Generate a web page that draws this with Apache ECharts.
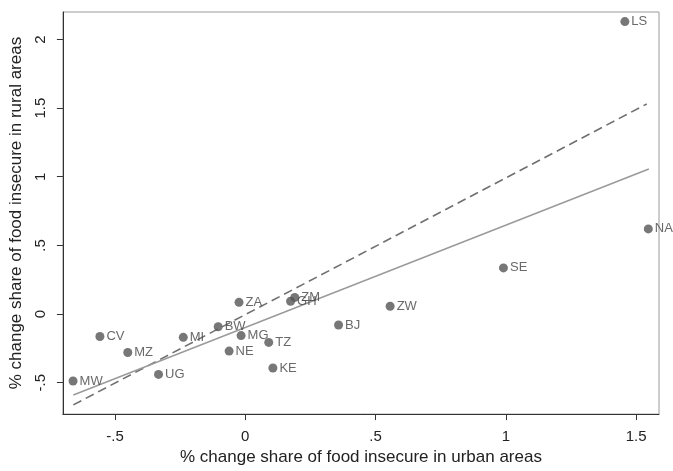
<!DOCTYPE html>
<html><head><meta charset="utf-8">
<script src="https://cdn.jsdelivr.net/npm/echarts@6/dist/echarts.min.js"></script>
<style>html,body{margin:0;padding:0;background:#fff}#c{width:673px;height:471px}</style>
</head><body><div id="c"></div>
<script>
const countries = ['LS','NA','SE','ZW','BJ','ZM','GH','ZA','BW','MI','MG','TZ','NE','KE','UG','CV','MZ','MW'];
const urbanChange = [1.457,1.547,0.991,0.556,0.358,0.19,0.174,-0.024,-0.104,-0.238,-0.016,0.09,-0.062,0.106,-0.333,-0.558,-0.451,-0.661];
const ruralChange = [2.13,0.62,0.336,0.057,-0.08,0.121,0.093,0.085,-0.093,-0.17,-0.157,-0.207,-0.27,-0.393,-0.44,-0.164,-0.28,-0.488];
const fitX = [-0.66, 1.549];
const fitY = [-0.59, 1.056];
const diagX = [-0.66, 1.541];
const diagY = [-0.662, 1.53];
const xTicks = [-0.5, 0, 0.5, 1, 1.5];
const yTicks = [-0.5, 0, 0.5, 1, 1.5, 2];

const fmt = v => { let s = String(Math.round(v*100)/100); return s.replace(/^0\./,'.').replace(/^-0\./,'-.'); };
const font = 'Liberation Sans, Arial, sans-serif';
const chart = echarts.init(document.getElementById('c'));
chart.setOption({
  animation: false,
  grid: {left: 60, right: 14, top: 12, bottom: 49, show: true, borderColor: '#9a9a9a', borderWidth: 1},
  xAxis: {
    type: 'value', min: -0.70, max: 1.588,
    name: '% change share of food insecure in urban areas', nameLocation: 'middle', nameGap: 28,
    nameTextStyle: {fontFamily: font, fontSize: 17, color: '#222'},
    axisLine: {show: true, onZero: false, lineStyle: {color: '#333'}},
    axisTick: {show: true, length: 6, customValues: xTicks, lineStyle: {color: '#333'}},
    axisLabel: {customValues: xTicks, formatter: fmt, fontFamily: font, fontSize: 15, color: '#222', margin: 15},
    splitLine: {show: false}
  },
  yAxis: {
    type: 'value', min: -0.729, max: 2.2,
    name: '% change share of food insecure in rural areas', nameLocation: 'middle', nameGap: 30,
    nameTextStyle: {fontFamily: font, fontSize: 17, color: '#222'},
    axisLine: {show: true, onZero: false, lineStyle: {color: '#333'}},
    axisTick: {show: true, length: 6, customValues: yTicks, lineStyle: {color: '#333'}},
    axisLabel: {customValues: yTicks, formatter: fmt, rotate: 90, fontFamily: font, fontSize: 15, color: '#222', margin: 15},
    splitLine: {show: false}
  },
  series: [
    {type: 'line', data: diagX.map((x,i)=>[x, diagY[i]]), symbol: 'none',
     lineStyle: {color: '#707070', width: 1.6, type: [9,5]}, z: 2},
    {type: 'line', data: fitX.map((x,i)=>[x, fitY[i]]), symbol: 'none',
     lineStyle: {color: '#9a9a9a', width: 1.5}, z: 2},
    {type: 'scatter', symbolSize: 9, itemStyle: {color: '#555'}, z: 3,
     data: countries.map((c,i)=>({name: c, value: [urbanChange[i], ruralChange[i]]})),
     label: {show: true, position: 'right', distance: 2, formatter: p => p.name,
       fontFamily: font, fontSize: 13, color: '#444'}}
  ]
});
</script></body></html>
